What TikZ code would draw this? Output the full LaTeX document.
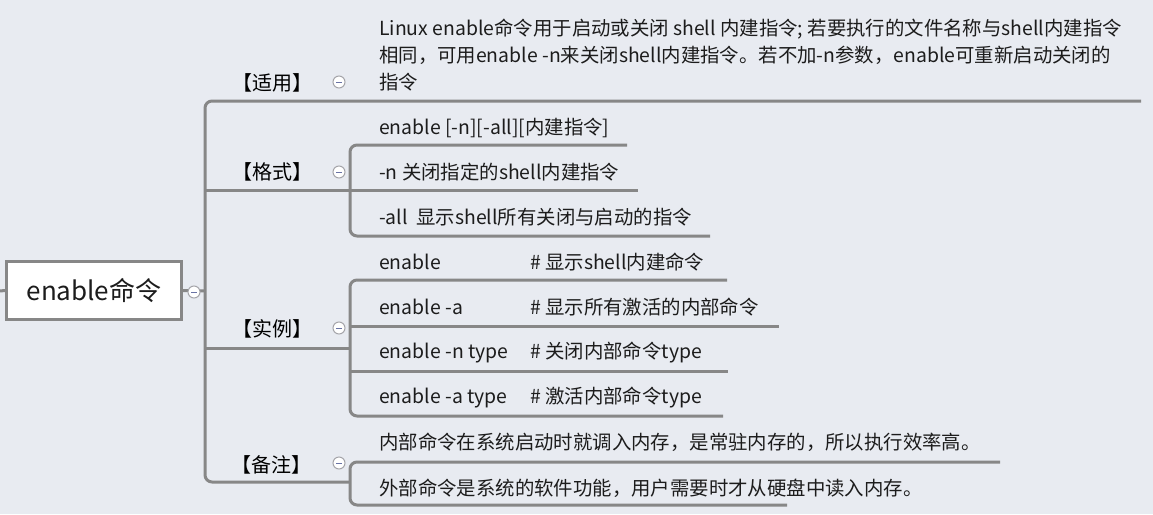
\documentclass[tikz,border=0pt]{standalone}
\usepackage{fontspec}
\newfontfamily\cjk{Noto Sans CJK SC}
\usetikzlibrary{calc}
\definecolor{bgcol}{RGB}{232,235,241}
\definecolor{linegray}{RGB}{135,135,135}
\definecolor{txtcol}{RGB}{28,28,28}
\definecolor{foldgray}{RGB}{165,165,170}
\definecolor{foldblue}{RGB}{105,115,165}
\tikzset{branch/.style={draw=linegray, line width=3pt, rounded corners=7pt}}
\tikzset{rootbox/.style={draw=linegray, line width=3pt, fill=white, minimum width=175pt, minimum height=58pt, font=\cjk\fontsize{26}{30}\selectfont, text=txtcol}}
\tikzset{cat/.style={font=\cjk\fontsize{20}{24}\selectfont, text=black, inner sep=0pt}}
\tikzset{leaf/.style={anchor=west, font=\cjk\fontsize{19.4}{27}\selectfont, text=txtcol, inner sep=0pt}}
\tikzset{fold/.style={circle, draw=foldgray, line width=1pt, fill=white, minimum size=12pt, inner sep=0pt,
  path picture={\draw[foldblue, line width=1pt] ([xshift=-3pt]path picture bounding box.center) -- ([xshift=3pt]path picture bounding box.center);}}}

\begin{document}
\begin{tikzpicture}[x=1pt,y=-1pt]
  \fill[bgcol] (0,0) rectangle (1153,514);
  \useasboundingbox (0,0) rectangle (1153,514);

  % root
  \node[rootbox] (root) at (94,290.5) {enable命令};
  \coordinate (stub) at (0,291);
  \draw[branch] (stub) -- (root.west);
  \coordinate (trunk-r) at (205,291);
  \draw[branch] (root.east) -- (trunk-r);

  % trunk
  \coordinate (sy-e) at (1141,101);
  \coordinate (trunk-b) at (205,482);
  \coordinate (bz-j) at (350,482);
  \draw[branch] (sy-e) -| (trunk-b) -- (bz-j);

  % 适用
  \node[cat] (shiyong) at (272,83) {【适用】};
  \node[leaf, align=left] (sy) at (379,55) {Linux enable命令用于启动或关闭 shell 内建指令; 若要执行的文件名称与shell内建指令\\相同，可用enable -n来关闭shell内建指令。若不加-n参数，enable可重新启动关闭的\\指令};

  % 格式
  \node[cat] (geshi) at (272,172) {【格式】};
  \foreach \y/\u/\e/\name/\lab in {
    128/145/627/{enable [-n][-all][内建指令]}/g1,
    172/190/638/{-n 关闭指定的shell内建指令}/g2,
    217/236/710/{-all\ \ 显示shell所有关闭与启动的指令}/g3%
  } {
    \node[leaf] (\lab) at (379,\y) {\name};
    \coordinate (\lab-s) at (350,\u);
    \coordinate (\lab-e) at (\e,\u);
  }
  \coordinate (trunk-g) at (205,190);
  \draw[branch] (g1-e) -| (g3-s) -- (g3-e);
  \draw[branch] (trunk-g) -- (g2-s) -- (g2-e);

  % 实例
  \node[cat] (shili) at (272,329) {【实例】};
  \foreach \y/\u/\e/\cmd/\name/\lab in {
    262/280/727/{enable}/{\# 显示shell内建命令}/s1,
    307/326/779/{enable -a}/{\# 显示所有激活的内部命令}/s2,
    352/371/728/{enable -n type}/{\# 关闭内部命令type}/s3,
    397/416/723/{enable -a type}/{\# 激活内部命令type}/s4%
  } {
    \node[leaf] (\lab) at (379,\y) {\makebox[151pt][l]{\cmd}\name};
    \coordinate (\lab-s) at (350,\u);
    \coordinate (\lab-e) at (\e,\u);
  }
  \coordinate (trunk-s) at (205,348);
  \coordinate (shili-j) at (350,348);
  \draw[branch] (s1-e) -| (s4-s) -- (s4-e);
  \draw[branch] (s2-s) -- (s2-e);
  \draw[branch] (s3-s) -- (s3-e);
  \draw[branch] (trunk-s) -- (shili-j);

  % 备注
  \node[cat] (beizhu) at (271,465) {【备注】};
  \foreach \y/\u/\e/\name/\lab in {
    442/462/1000/{内部命令在系统启动时就调入内存，是常驻内存的，所以执行效率高。}/b1,
    488/505/787/{外部命令是系统的软件功能，用户需要时才从硬盘中读入内存。}/b2%
  } {
    \node[leaf] (\lab) at (379,\y) {\name};
    \coordinate (\lab-s) at (350,\u);
    \coordinate (\lab-e) at (\e,\u);
  }
  \draw[branch] (b1-e) -| (b2-s) -- (b2-e);

  % fold marks
  \node[fold] (root-f) at (194,292) {};
  \node[fold] (shiyong-f) at (339,82) {};
  \node[fold] (geshi-f) at (339,172) {};
  \node[fold] (shili-f) at (339,328) {};
  \node[fold] (beizhu-f) at (339,463) {};
\end{tikzpicture}
\end{document}
